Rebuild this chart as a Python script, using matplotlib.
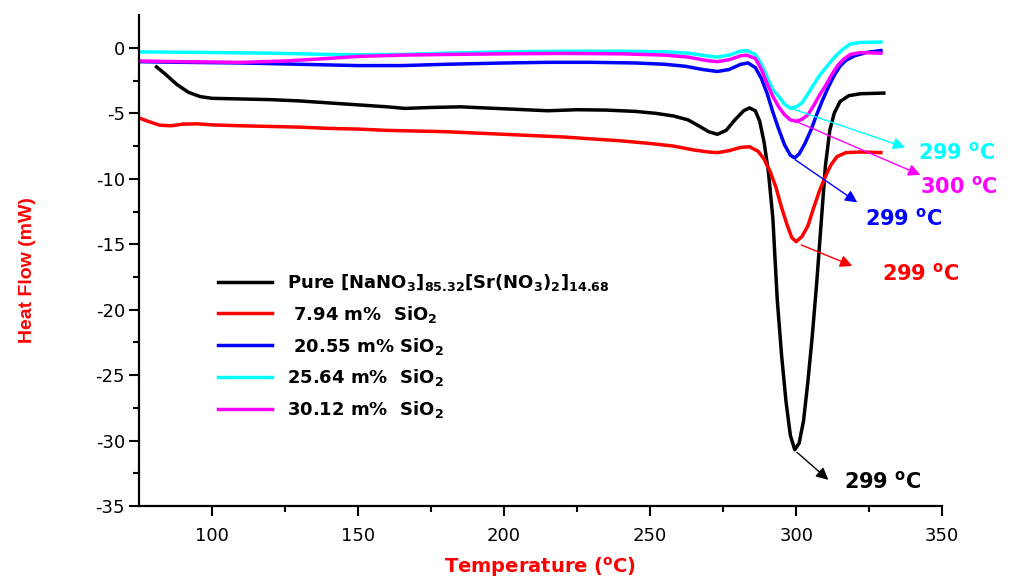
import matplotlib
matplotlib.use("Agg")
import matplotlib.pyplot as plt

plt.rcParams['axes.unicode_minus'] = False
plt.rcParams['font.family'] = ['DejaVu Sans']

# DSC curves (temperature in degC, heat flow in mW)
t_pure = [81, 84, 88, 92, 96, 100, 110, 120, 130, 140, 150, 160, 166, 175, 185, 195, 205, 215,
          225, 235, 245, 252, 258, 263, 267, 270, 273, 276, 279, 282, 284, 286, 287.5, 289, 290.5,
          292, 293.5, 295, 296.5, 298, 299.5, 301, 302.5, 304, 305.5, 307, 308.5, 310, 311.5, 313,
          315, 318, 322, 330]
hf_pure = [-1.45, -2.0, -2.8, -3.4, -3.72, -3.85, -3.9, -3.95, -4.05, -4.2, -4.35, -4.5, -4.62,
           -4.55, -4.5, -4.6, -4.7, -4.8, -4.72, -4.75, -4.85, -5.0, -5.2, -5.5, -6.0, -6.4, -6.6,
           -6.3, -5.5, -4.8, -4.58, -4.8, -5.6, -7.2, -9.5, -13.0, -19.2, -23.5, -27.0, -29.6,
           -30.7, -30.2, -28.5, -25.5, -22.0, -18.0, -13.5, -9.0, -6.3, -5.0, -4.1, -3.65, -3.5,
           -3.45]

t_794 = [75, 78, 82, 86, 90, 95, 100, 110, 120, 130, 140, 150, 160, 170, 180, 190, 200, 210, 220,
         230, 240, 250, 258, 265, 270, 273, 277, 281, 284, 287, 289, 291, 293, 295, 297, 298.5, 300,
         302, 304, 306, 308, 310, 312, 314, 317, 322, 329]
hf_794 = [-5.35, -5.6, -5.9, -5.95, -5.82, -5.8, -5.88, -5.95, -6.0, -6.05, -6.15, -6.2, -6.3,
          -6.35, -6.4, -6.5, -6.6, -6.7, -6.8, -6.95, -7.1, -7.3, -7.5, -7.8, -7.95, -8.0, -7.85,
          -7.6, -7.55, -7.9, -8.5, -9.4, -10.6, -12.2, -13.6, -14.5, -14.8, -14.4, -13.6, -12.2,
          -10.9, -9.8, -8.9, -8.3, -8.0, -7.95, -8.0]

t_2055 = [75, 90, 110, 130, 150, 165, 180, 200, 215, 230, 245, 255, 262, 268, 273, 277, 281, 283.5,
          286, 288, 290, 292, 294, 296, 298, 299.5, 301, 303, 305, 307, 309, 311, 313, 315, 317,
          320, 324, 329]
hf_2055 = [-1.05, -1.1, -1.15, -1.25, -1.35, -1.35, -1.25, -1.15, -1.1, -1.1, -1.15, -1.25, -1.4,
           -1.65, -1.8, -1.65, -1.25, -1.15, -1.5, -2.3, -3.45, -4.9, -6.2, -7.4, -8.2, -8.4, -8.1,
           -7.3, -6.3, -5.1, -4.0, -3.0, -2.1, -1.4, -0.95, -0.6, -0.35, -0.2]

t_2564 = [75, 100, 120, 140, 150, 165, 180, 200, 220, 240, 255, 263, 269, 273, 277, 281, 283, 286,
          288, 290, 292, 294, 296, 298, 300, 302, 304, 306, 308, 310, 312, 314, 316, 318.5, 322, 329]
hf_2564 = [-0.3, -0.35, -0.4, -0.5, -0.52, -0.5, -0.4, -0.3, -0.25, -0.25, -0.3, -0.4, -0.6, -0.7,
           -0.55, -0.25, -0.2, -0.5, -1.2, -2.2, -3.2, -3.7, -4.3, -4.6, -4.5, -4.2, -3.5, -2.8,
           -2.1, -1.55, -1.0, -0.5, -0.1, 0.3, 0.42, 0.45]

t_3012 = [75, 90, 110, 125, 140, 150, 165, 180, 200, 220, 240, 255, 263, 269, 273, 277, 281, 283,
          286, 288, 290, 292, 294, 296, 298, 300, 302, 304, 306, 308, 310, 312, 314, 316, 318.5,
          322, 329]
hf_3012 = [-1.0, -1.05, -1.1, -1.0, -0.8, -0.65, -0.55, -0.5, -0.45, -0.42, -0.45, -0.55, -0.7,
           -0.95, -1.05, -0.9, -0.6, -0.55, -0.8, -1.6, -2.7, -3.7, -4.5, -5.1, -5.5, -5.6, -5.45,
           -5.1, -4.4, -3.6, -2.9, -2.1, -1.4, -0.9, -0.5, -0.35, -0.4]

labels = ['Pure [NaNO$_\\mathbf{3}$]$_\\mathbf{85.32}$[Sr(NO$_\\mathbf{3}$)$_\\mathbf{2}$]$_\\mathbf{14.68}$',
          ' 7.94 m%  SiO$_\\mathbf{2}$',
          ' 20.55 m% SiO$_\\mathbf{2}$',
          '25.64 m%  SiO$_\\mathbf{2}$',
          '30.12 m%  SiO$_\\mathbf{2}$']
colors = ['black', 'red', 'blue', 'cyan', 'magenta']

# peak annotations: (peak T, peak value, arrow tip T, tip value, text T, text value, label)
peak_notes = [
    (300.3, -30.9, 311.0, -33.0, 316.4, -33.15, '299'),
    (301.7, -15.05, 319.2, -16.65, 329.5, -17.2, '299'),
    (299.7, -8.55, 320.9, -11.8, 323.6, -13.0, '299'),
    (298.0, -4.6, 337.3, -7.6, 341.8, -7.95, '299'),
    (300.3, -5.65, 342.5, -9.7, 342.5, -10.6, '300'),
]

fig, ax = plt.subplots(figsize=(10.11, 5.85), dpi=100)
fig.subplots_adjust(left=0.1375, right=0.932, bottom=0.135, top=0.974)

series = [(t_pure, hf_pure), (t_794, hf_794), (t_2055, hf_2055), (t_2564, hf_2564), (t_3012, hf_3012)]
for (t, hf), c, lab in zip(series, colors, labels):
    ax.plot(t, hf, color=c, lw=2.5, label=lab)

for (px, py, tx, ty, lx, ly, txt), c in zip(peak_notes, colors):
    ax.annotate('', xy=(tx, ty), xytext=(px, py),
                arrowprops=dict(arrowstyle='-|>', color=c, lw=1, mutation_scale=18,
                                shrinkA=0, shrinkB=0))
    ax.text(lx, ly, txt + ' $^\\mathbf{o}$C', color=c, fontsize=15, fontweight='bold',
            va='center', ha='left')

ax.set_xlim(75, 350)
ax.set_ylim(-35, 2.5)
ax.set_xticks([100, 150, 200, 250, 300, 350])
ax.set_xticks([125, 175, 225, 275, 325], minor=True)
ax.set_yticks(range(-35, 1, 5))
ax.set_yticks([-32.5, -27.5, -22.5, -17.5, -12.5, -7.5, -2.5], minor=True)
ax.spines['top'].set_visible(False)
ax.spines['right'].set_visible(False)
ax.spines['left'].set_linewidth(1.6)
ax.spines['bottom'].set_linewidth(1.6)
ax.tick_params(which='major', length=7, width=1.5, labelsize=13, pad=3)
ax.tick_params(which='minor', length=4, width=1.5)
ax.tick_params(axis='x', pad=8)

ax.set_xlabel('Temperature ($^\\mathbf{o}$C)', color='red', fontsize=14, fontweight='bold')
ax.set_ylabel('Heat Flow (mW)', color='red', fontsize=14, fontweight='bold',
              family=['Liberation Sans Narrow', 'Liberation Sans', 'DejaVu Sans'])
ax.xaxis.set_label_coords(0.4994, -0.1)
ax.yaxis.set_label_coords(-0.128, 0.48)

leg = ax.legend(loc='upper left', bbox_to_anchor=(0.078, 0.51), frameon=False,
                prop=dict(weight='bold', size=13), handlelength=3.0, handletextpad=0.8,
                labelspacing=0.6)

fig.savefig('out.png', dpi=100)
